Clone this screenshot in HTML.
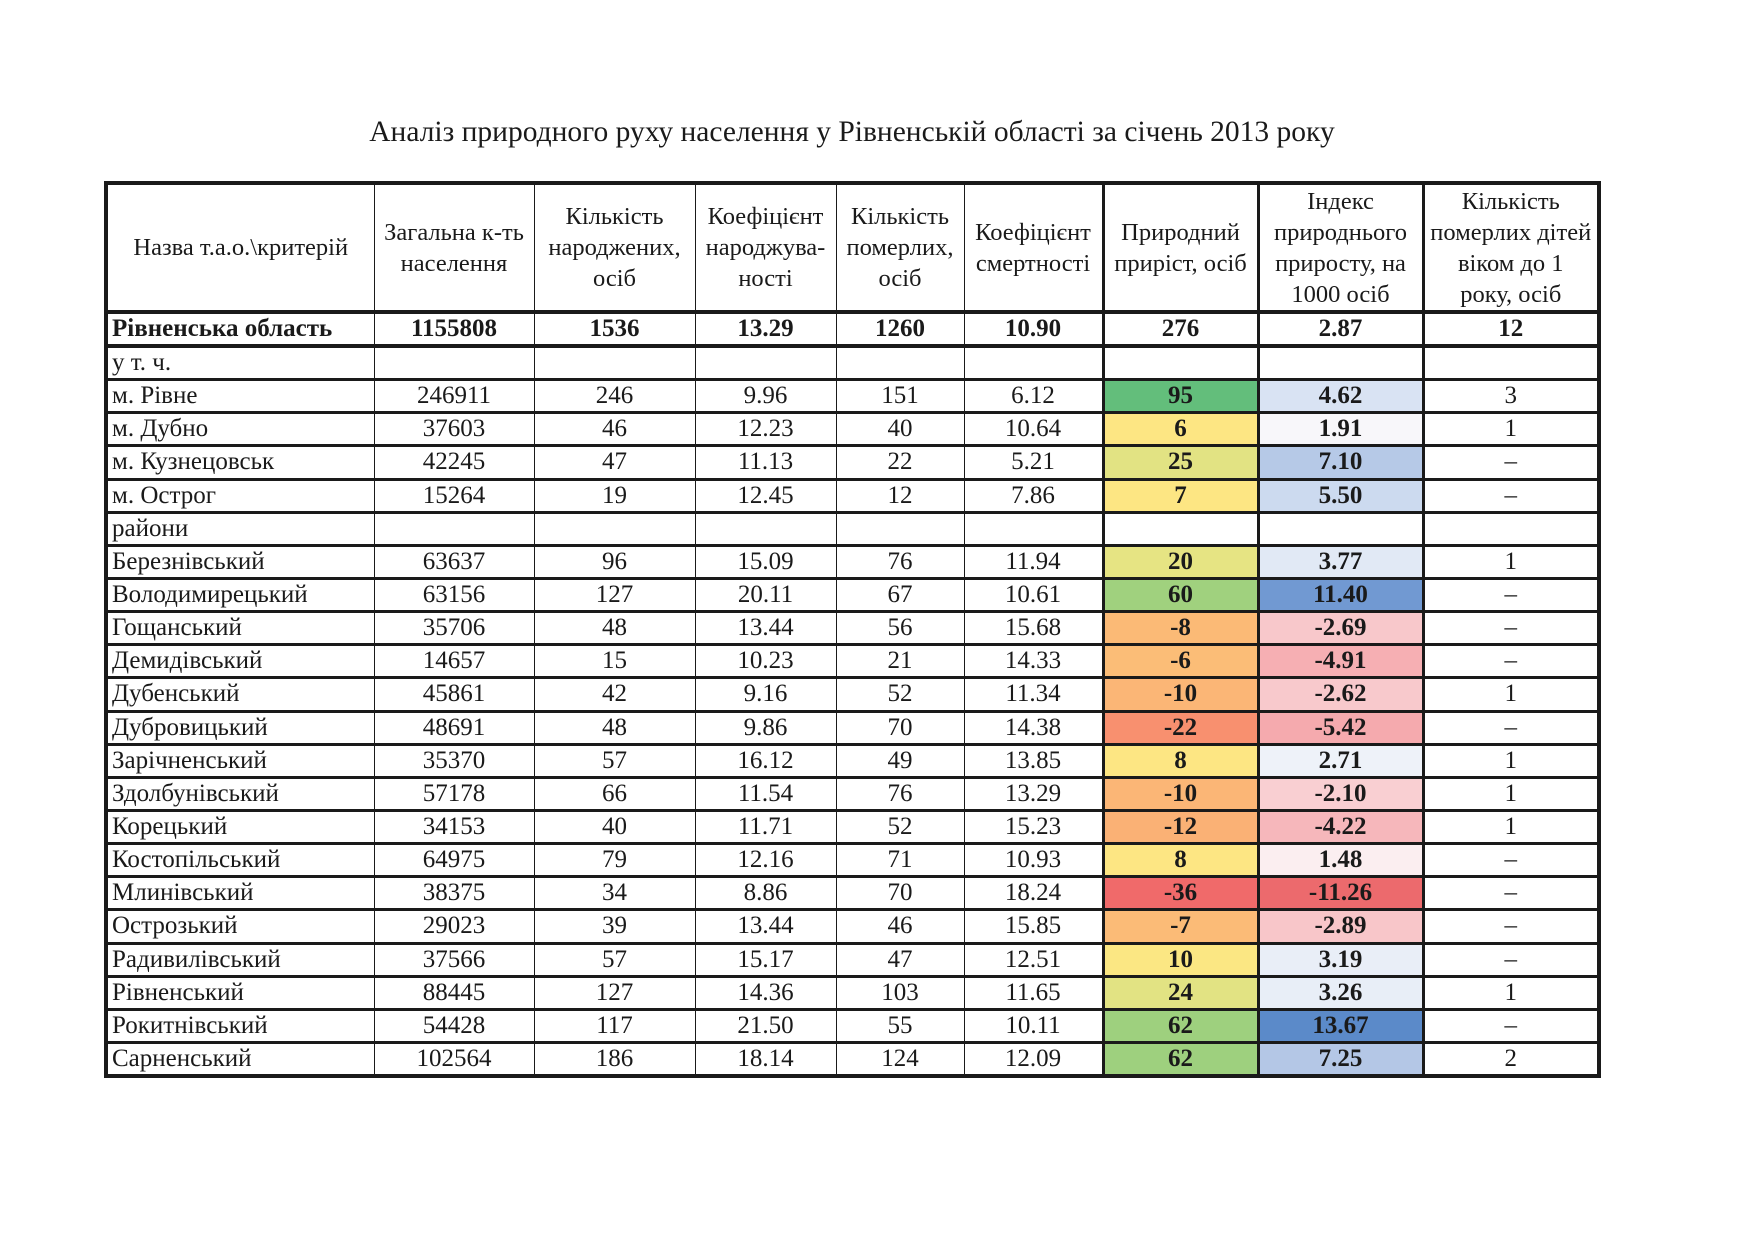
<!DOCTYPE html>
<html><head><meta charset="utf-8"><style>
body{margin:0;width:1754px;height:1240px;background:#fff;position:relative;overflow:hidden;font-family:"Liberation Serif","DejaVu Serif",serif;color:#1a1a1a}
.t{position:absolute;left:0;width:1704px;top:116px;text-align:center;font-size:29.5px}
table{position:absolute;left:104px;top:181px;border-collapse:collapse;table-layout:fixed;border:4px solid #1a1a1a}
td{border-left:1.5px solid #1a1a1a;border-right:1.5px solid #1a1a1a;border-top:3px solid #1a1a1a;border-bottom:3px solid #1a1a1a;height:30.15px;padding:0;text-align:center;font-size:25px;line-height:28px;white-space:nowrap;overflow:hidden}
tr.h td{height:125px;font-size:24.5px;line-height:31px;white-space:normal;border-bottom:4px solid #1a1a1a}
tr.r1 td{font-weight:bold;height:30px;border-bottom:4px solid #1a1a1a}
td:first-child{text-align:left;padding-left:4px}
tr.h td:first-child{text-align:center;padding-left:0}
td.c7,td.c8{border-left:3px solid #1a1a1a;border-right:3px solid #1a1a1a;font-weight:bold}
</style></head><body>
<div class="t">Аналіз природного руху населення у Рівненській області за січень 2013 року</div>
<table>
<colgroup><col style="width:268px"><col style="width:160px"><col style="width:161px"><col style="width:141px"><col style="width:128px"><col style="width:139px"><col style="width:155px"><col style="width:165px"><col style="width:176px"></colgroup>
<tr class="h"><td>Назва т.а.о.\критерій</td><td>Загальна к-ть населення</td><td>Кількість народжених, осіб</td><td>Коефіцієнт народжува-ності</td><td>Кількість померлих, осіб</td><td>Коефіцієнт смертності</td><td class="c7" style="font-weight:normal">Природний приріст, осіб</td><td class="c8" style="font-weight:normal">Індекс природнього приросту, на 1000 осіб</td><td>Кількість померлих дітей віком до 1<br>року, осіб</td></tr>
<tr class="r1"><td>Рівненська область</td><td>1155808</td><td>1536</td><td>13.29</td><td>1260</td><td>10.90</td><td class="c7">276</td><td class="c8">2.87</td><td>12</td></tr>
<tr><td>у т. ч.</td><td></td><td></td><td></td><td></td><td></td><td class="c7"></td><td class="c8"></td><td></td></tr>
<tr><td>м. Рівне</td><td>246911</td><td>246</td><td>9.96</td><td>151</td><td>6.12</td><td class="c7" style="background:#63be7b">95</td><td class="c8" style="background:#d9e3f3">4.62</td><td>3</td></tr>
<tr><td>м. Дубно</td><td>37603</td><td>46</td><td>12.23</td><td>40</td><td>10.64</td><td class="c7" style="background:#fde683">6</td><td class="c8" style="background:#f8f7fa">1.91</td><td>1</td></tr>
<tr><td>м. Кузнецовськ</td><td>42245</td><td>47</td><td>11.13</td><td>22</td><td>5.21</td><td class="c7" style="background:#e2e383">25</td><td class="c8" style="background:#b6c9e7">7.10</td><td>–</td></tr>
<tr><td>м. Острог</td><td>15264</td><td>19</td><td>12.45</td><td>12</td><td>7.86</td><td class="c7" style="background:#fde683">7</td><td class="c8" style="background:#ccdaef">5.50</td><td>–</td></tr>
<tr><td>райони</td><td></td><td></td><td></td><td></td><td></td><td class="c7"></td><td class="c8"></td><td></td></tr>
<tr><td>Березнівський</td><td>63637</td><td>96</td><td>15.09</td><td>76</td><td>11.94</td><td class="c7" style="background:#e6e483">20</td><td class="c8" style="background:#e1e9f5">3.77</td><td>1</td></tr>
<tr><td>Володимирецький</td><td>63156</td><td>127</td><td>20.11</td><td>67</td><td>10.61</td><td class="c7" style="background:#a0d17e">60</td><td class="c8" style="background:#7199d2">11.40</td><td>–</td></tr>
<tr><td>Гощанський</td><td>35706</td><td>48</td><td>13.44</td><td>56</td><td>15.68</td><td class="c7" style="background:#fbba76">-8</td><td class="c8" style="background:#f8c8cb">-2.69</td><td>–</td></tr>
<tr><td>Демидівський</td><td>14657</td><td>15</td><td>10.23</td><td>21</td><td>14.33</td><td class="c7" style="background:#fbbd77">-6</td><td class="c8" style="background:#f6afb3">-4.91</td><td>–</td></tr>
<tr><td>Дубенський</td><td>45861</td><td>42</td><td>9.16</td><td>52</td><td>11.34</td><td class="c7" style="background:#fbb676">-10</td><td class="c8" style="background:#f8c9cc">-2.62</td><td>1</td></tr>
<tr><td>Дубровицький</td><td>48691</td><td>48</td><td>9.86</td><td>70</td><td>14.38</td><td class="c7" style="background:#f8906f">-22</td><td class="c8" style="background:#f5aaae">-5.42</td><td>–</td></tr>
<tr><td>Зарічненський</td><td>35370</td><td>57</td><td>16.12</td><td>49</td><td>13.85</td><td class="c7" style="background:#fde683">8</td><td class="c8" style="background:#eef2f9">2.71</td><td>1</td></tr>
<tr><td>Здолбунівський</td><td>57178</td><td>66</td><td>11.54</td><td>76</td><td>13.29</td><td class="c7" style="background:#fbb676">-10</td><td class="c8" style="background:#f9cfd2">-2.10</td><td>1</td></tr>
<tr><td>Корецький</td><td>34153</td><td>40</td><td>11.71</td><td>52</td><td>15.23</td><td class="c7" style="background:#fab175">-12</td><td class="c8" style="background:#f6b7bb">-4.22</td><td>1</td></tr>
<tr><td>Костопільський</td><td>64975</td><td>79</td><td>12.16</td><td>71</td><td>10.93</td><td class="c7" style="background:#fde683">8</td><td class="c8" style="background:#fbeef0">1.48</td><td>–</td></tr>
<tr><td>Млинівський</td><td>38375</td><td>34</td><td>8.86</td><td>70</td><td>18.24</td><td class="c7" style="background:#f06a6a">-36</td><td class="c8" style="background:#ec6a6d">-11.26</td><td>–</td></tr>
<tr><td>Острозький</td><td>29023</td><td>39</td><td>13.44</td><td>46</td><td>15.85</td><td class="c7" style="background:#fbbb77">-7</td><td class="c8" style="background:#f8c6c9">-2.89</td><td>–</td></tr>
<tr><td>Радивилівський</td><td>37566</td><td>57</td><td>15.17</td><td>47</td><td>12.51</td><td class="c7" style="background:#fbe783">10</td><td class="c8" style="background:#e9eef7">3.19</td><td>–</td></tr>
<tr><td>Рівненський</td><td>88445</td><td>127</td><td>14.36</td><td>103</td><td>11.65</td><td class="c7" style="background:#e2e383">24</td><td class="c8" style="background:#e8eef7">3.26</td><td>1</td></tr>
<tr><td>Рокитнівський</td><td>54428</td><td>117</td><td>21.50</td><td>55</td><td>10.11</td><td class="c7" style="background:#9ed07e">62</td><td class="c8" style="background:#5b8ac9">13.67</td><td>–</td></tr>
<tr><td>Сарненський</td><td>102564</td><td>186</td><td>18.14</td><td>124</td><td>12.09</td><td class="c7" style="background:#9ed07e">62</td><td class="c8" style="background:#b4c7e6">7.25</td><td>2</td></tr>
</table>
</body></html>
